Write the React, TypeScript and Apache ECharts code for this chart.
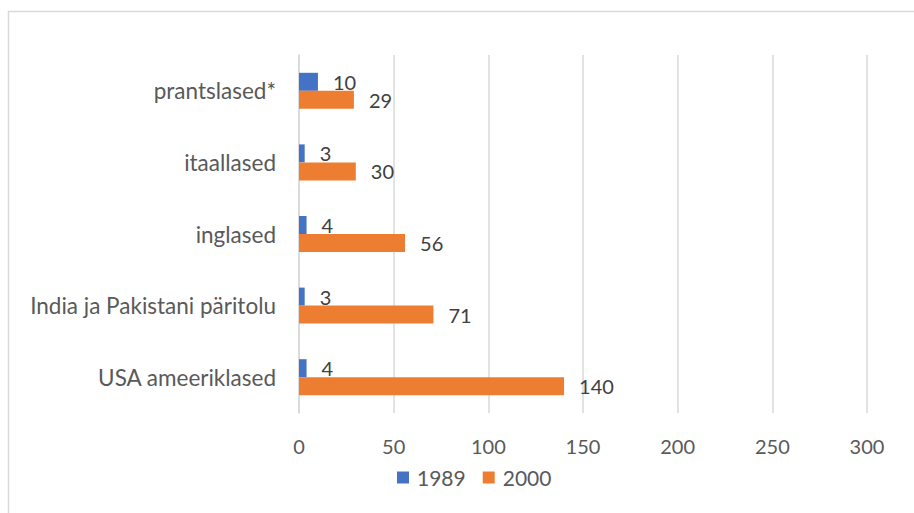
import React, { useEffect, useRef } from "react";
import * as echarts from "echarts";

const categories = [
  "USA ameeriklased",
  "India ja Pakistani päritolu",
  "inglased",
  "itaallased",
  "prantslased*",
];
const values1989 = [4, 3, 4, 3, 10];
const values2000 = [140, 71, 56, 30, 29];
const seriesNames = ["1989", "2000"];

const FONT = "Lato, 'Open Sans', sans-serif";

export default function App() {
  const ref = useRef<HTMLDivElement>(null);
  useEffect(() => {
    if (!ref.current) return;
    const chart = echarts.init(ref.current, undefined, { renderer: "svg" });
    const labelCfg = {
      show: true,
      position: "right" as const,
      distance: 15,
      color: "#404040",
      fontSize: 20,
      fontFamily: FONT,
    };
    chart.setOption({
      animation: false,
      textStyle: { fontFamily: FONT },
      graphic: [
        {
          type: "rect",
          shape: { x: 8.5, y: 11.5, width: 920, height: 520 },
          style: { fill: "none", stroke: "#d9d9d9", lineWidth: 1.5 },
          silent: true,
        },
      ],
      grid: { left: 299, right: 47, top: 55, bottom: 100, containLabel: false },
      legend: {
        bottom: 20,
        left: 392,
        itemWidth: 12,
        itemHeight: 12,
        itemGap: 17,
        icon: "rect",
        textStyle: { color: "#595959", fontSize: 21, fontFamily: FONT, padding: [0, 0, 0, 3] },
        data: seriesNames,
      },
      xAxis: {
        type: "value",
        min: 0,
        max: 300,
        interval: 50,
        axisLine: { show: false },
        axisTick: { show: false },
        axisLabel: { color: "#595959", fontSize: 20, margin: 23, fontFamily: FONT },
        splitLine: { lineStyle: { color: "#d9d9d9", width: 1.5 } },
      },
      yAxis: {
        type: "category",
        data: categories,
        axisLine: { show: true, lineStyle: { color: "#d9d9d9", width: 1.5 } },
        axisTick: { show: false },
        axisLabel: { color: "#595959", fontSize: 22.5, margin: 23, fontFamily: FONT },
      },
      series: [
        {
          name: seriesNames[0],
          type: "bar",
          data: values1989,
          barWidth: 18,
          barGap: "0%",
          itemStyle: { color: "#4472C4" },
          label: labelCfg,
        },
        {
          name: seriesNames[1],
          type: "bar",
          data: values2000,
          barWidth: 18,
          barGap: "0%",
          itemStyle: { color: "#ED7D31" },
          label: labelCfg,
        },
      ],
    });
    return () => chart.dispose();
  }, []);
  return (
    <div
      ref={ref}
      style={{ position: "fixed", left: 0, top: 0, width: 914, height: 513, background: "#fff" }}
    />
  );
}
